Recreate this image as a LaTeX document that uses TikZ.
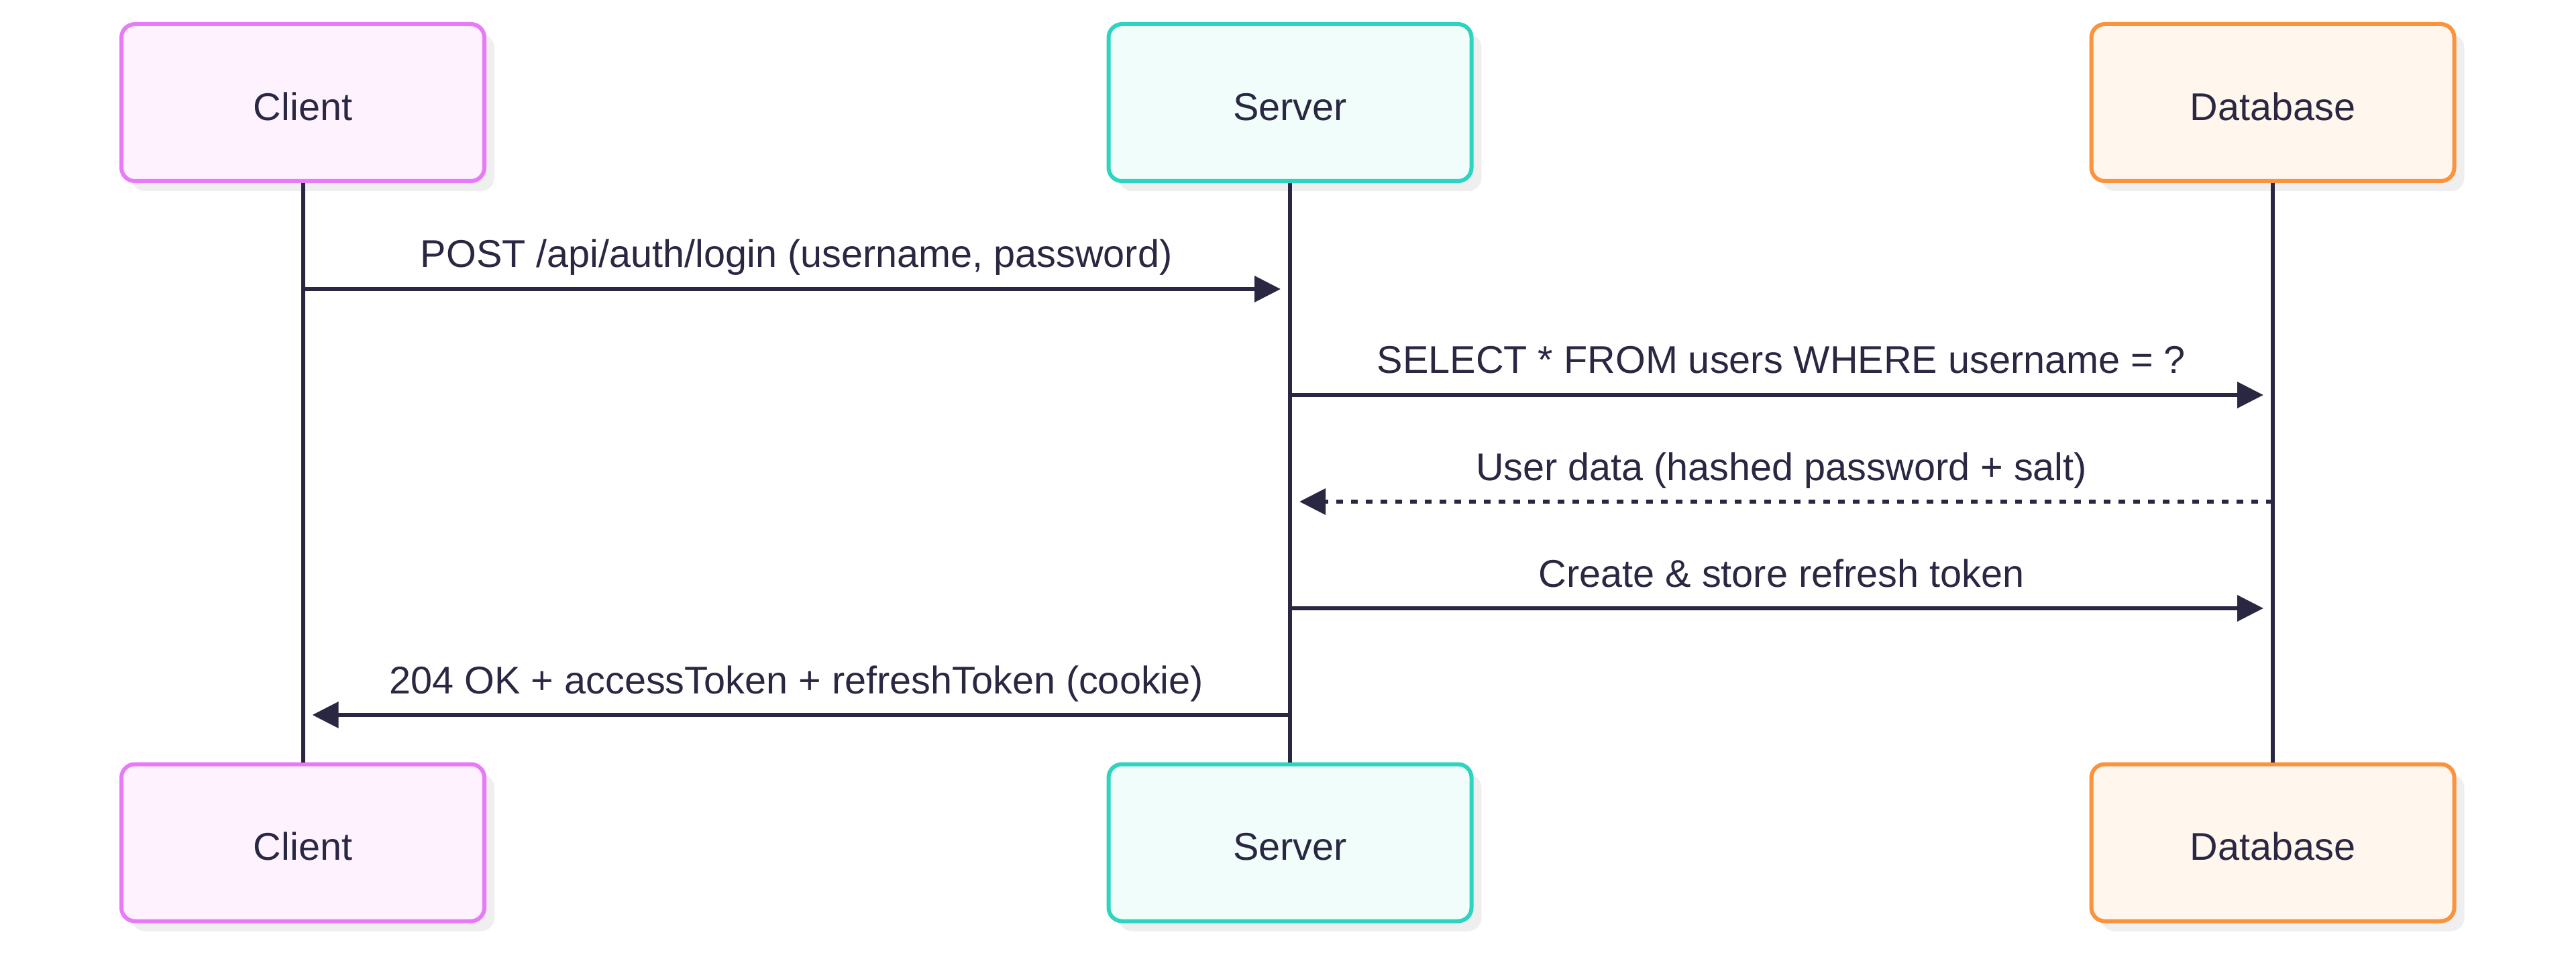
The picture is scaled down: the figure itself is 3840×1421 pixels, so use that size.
\documentclass[tikz,border=0pt]{standalone}
\usepackage{fontspec}
\setmainfont{Liberation Sans}
\usetikzlibrary{arrows.meta,shadows}

\definecolor{ink}{HTML}{2A2742}
\definecolor{shade}{HTML}{EFEFEF}
\definecolor{clientline}{HTML}{E879F9}
\definecolor{clientfill}{HTML}{FDF2FE}
\definecolor{serverline}{HTML}{2DD4BF}
\definecolor{serverfill}{HTML}{F0FDFA}
\definecolor{dbline}{HTML}{FB923C}
\definecolor{dbfill}{HTML}{FFF6EE}

\tikzset{
  actor/.style={rectangle, rounded corners=5pt, line width=1.5pt,
    minimum width=135.25pt, minimum height=58.5pt, text=ink,
    text height=13.2pt, font=\fontsize{14.4}{17}\selectfont,
    drop shadow={shadow xshift=3.75pt, shadow yshift=-3.75pt, fill=shade, opacity=1}},
  lifeline/.style={ink, line width=1.5pt},
  msg/.style={ink, line width=1.6pt, -{Triangle[length=9.75pt,width=9.5pt]}, shorten >=3.5pt},
  reply/.style={msg, dash pattern=on 2.6pt off 2.9pt},
  lbl/.style={anchor=base, yshift=8pt, text=ink, font=\fontsize{14.4}{17}\selectfont}
}

\begin{document}
\begin{tikzpicture}[x=0.25pt, y=-0.25pt]
\useasboundingbox (0,0) rectangle (3840,1421);

% participants
\node[actor, draw=clientline, fill=clientfill] (client) at (451.5,153) {Client};
\node[actor, draw=serverline, fill=serverfill] (server) at (1923,153) {Server};
\node[actor, draw=dbline, fill=dbfill] (db) at (3388,153) {Database};

\node[actor, draw=clientline, fill=clientfill] (clientB) at (451.5,1256.5) {Client};
\node[actor, draw=serverline, fill=serverfill] (serverB) at (1923,1256.5) {Server};
\node[actor, draw=dbline, fill=dbfill] (dbB) at (3388,1256.5) {Database};

% lifelines
\draw[lifeline] (client) -- (clientB);
\draw[lifeline] (server) -- (serverB);
\draw[lifeline] (db) -- (dbB);

% message points
\coordinate (c1) at (client |- 0,431);
\coordinate (s1) at (server |- 0,431);
\coordinate (s2) at (server |- 0,589);
\coordinate (d2) at (db |- 0,589);
\coordinate (d3) at (db |- 0,748);
\coordinate (s3) at (server |- 0,748);
\coordinate (s4) at (server |- 0,907);
\coordinate (d4) at (db |- 0,907);
\coordinate (s5) at (server |- 0,1066);
\coordinate (c5) at (client |- 0,1066);

% messages
\draw[msg] (c1) -- node[lbl] {POST /api/auth/login (username, password)} (s1);
\draw[msg] (s2) -- node[lbl] {SELECT * FROM users WHERE username = ?} (d2);
\draw[reply] (d3) -- node[lbl] {User data (hashed password + salt)} (s3);
\draw[msg] (s4) -- node[lbl] {Create \& store refresh token} (d4);
\draw[msg] (s5) -- node[lbl] {204 OK + accessToken + refreshToken (cookie)} (c5);

\end{tikzpicture}
\end{document}
